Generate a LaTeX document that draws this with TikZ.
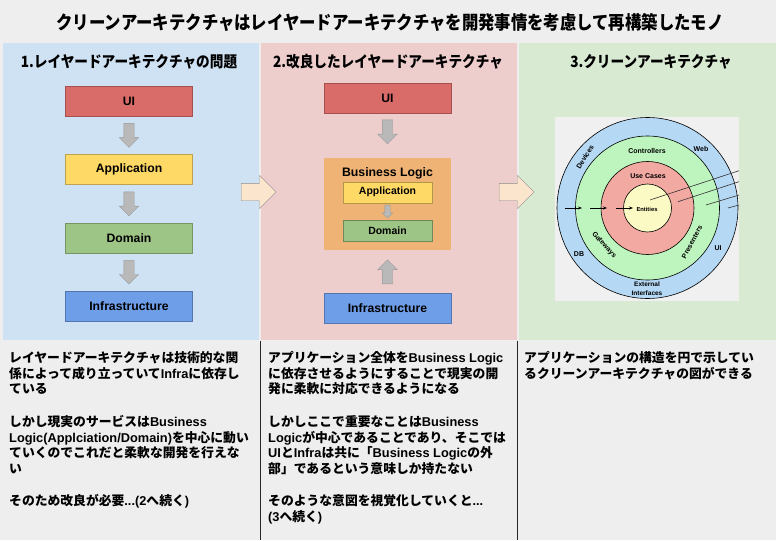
\documentclass[tikz,border=0pt]{standalone}
\usepackage{fontspec}
\setmainfont{Noto Sans CJK JP}
\newfontfamily\lat{Liberation Sans}
\newfontfamily\narrowjp[FakeStretch=0.88]{Noto Sans CJK JP}
\usetikzlibrary{arrows.meta,positioning,shapes.arrows,calc}

\definecolor{bggray}{HTML}{EEEEEE}
\definecolor{pblue}{HTML}{CFE2F3}
\definecolor{ppink}{HTML}{EECDCD}
\definecolor{pgreen}{HTML}{D9EAD3}
\definecolor{uired}{HTML}{D96B68}
\definecolor{appyel}{HTML}{FFD966}
\definecolor{domgrn}{HTML}{9DC585}
\definecolor{infblu}{HTML}{6F9EE8}
\definecolor{blorng}{HTML}{EFB475}
\definecolor{peach}{HTML}{FBE5CD}
\definecolor{cabg}{HTML}{F0F0F0}
\definecolor{cablue}{HTML}{B5D8F5}
\definecolor{cagreen}{HTML}{BEF5BE}
\definecolor{cared}{HTML}{F2A9A2}
\definecolor{cayel}{HTML}{FBFAC4}

\begin{document}
\begin{tikzpicture}[
    x=1pt, y=-1pt,
    node distance=38pt,
    layer/.style={draw=#1!75!black, fill=#1, minimum width=127, minimum height=30, inner sep=0, font=\lat\bfseries\fontsize{12.2}{14}\selectfont},
    sublayer/.style={draw=#1!70!black, fill=#1, minimum width=89, minimum height=21, inner sep=0, font=\lat\bfseries\fontsize{10.5}{12}\selectfont},
    garrow/.style={single arrow, draw=gray!80, fill=gray!55, anchor=tail, inner xsep=0, inner ysep=5, single arrow head extend=4.5, minimum width=19, minimum height=24},
    parrow/.style={single arrow, draw=gray!90, fill=peach, anchor=tail, inner xsep=0, inner ysep=8.5, single arrow head extend=8, minimum width=33, minimum height=35},
    heading/.style={font=\narrowjp\bfseries\fontsize{15.5}{17}\selectfont, inner sep=0},
    body/.style={anchor=north west, align=left, inner sep=0, font=\bfseries\fontsize{12.8}{15.6}\selectfont},
    cal/.style={inner sep=0, font=\lat\bfseries\fontsize{7}{8}\selectfont}
]
% background
\fill[bggray] (0,0) rectangle (776,540);
\fill[pblue] (3,43) rectangle (259,340);
\fill[ppink] (261,43) rectangle (517,340);
\fill[pgreen] (519,43) rectangle (776,340);
\draw[gray!30!black] (260,341) -- (260,540);
\draw[gray!30!black] (517,341) -- (517,540);

\node[font=\narrowjp\bfseries\fontsize{18.6}{20}\selectfont, inner sep=0] (title) at (390,22) {クリーンアーキテクチャはレイヤードアーキテクチャを開発事情を考慮して再構築したモノ};
\node[heading] (h1) at (129,62) {1.レイヤードアーキテクチャの問題};
\node[heading] (h2) at (388,62) {2.改良したレイヤードアーキテクチャ};
\node[heading] (h3) at (651,62) {3.クリーンアーキテクチャ};

% 1. layered
\node[layer=uired] (ui1) at (129,101) {UI};
\node[layer=appyel, below=of ui1] (app1) {Application};
\node[layer=domgrn, below=of app1] (dom1) {Domain};
\node[layer=infblu, below=of dom1] (inf1) {Infrastructure};
\foreach \a/\b in {ui1/app1,app1/dom1,dom1/inf1}
  \node[garrow, rotate=-90] (\a-\b) at ($(\a.south)+(0,7)$) {};

% 2. improved
\node[layer=uired] (ui2) at (387.5,98.5) {UI};
\node[fill=blorng, minimum width=127, minimum height=92, inner sep=0, below=44pt of ui2] (bl) {};
\node[font=\lat\bfseries\fontsize{12.3}{14}\selectfont, inner sep=0] (bltitle) at ($(bl.north)+(0,16)$) {Business Logic};
\node[sublayer=appyel] (app2) at ($(bl.north)+(0,34.5)$) {Application};
\node[sublayer=domgrn, below=17pt of app2] (dom2) {Domain};
\node[layer=infblu, below=43pt of bl] (inf2) {Infrastructure};
\node[garrow, rotate=-90] (ui2-bl) at ($(ui2.south)+(0,6)$) {};
\node[garrow, rotate=-90, minimum width=10, minimum height=13, inner ysep=2.5, single arrow head extend=2.5] (app2-dom2) at ($(app2.south)+(0,2)$) {};
\node[garrow, rotate=90] (inf2-bl) at ($(inf2.north)+(0,-9)$) {};

\node[parrow] (p1-p2) at (241,192) {};
\node[parrow] (p2-p3) at (499,192) {};

% 3. clean architecture
\fill[cabg] (555,117) rectangle (739,301);
\filldraw[fill=cablue, draw=black, line width=0.6] (647.5,208) circle[radius=90.5];
\filldraw[fill=cagreen, draw=black, line width=0.6] (647.5,208) circle[radius=72];
\filldraw[fill=cared, draw=black, line width=0.6] (647.5,208) circle[radius=46.5];
\filldraw[fill=cayel, draw=black, line width=0.6] (647.5,208) circle[radius=24];
\foreach \s/\e in {565/582,590/607,616/633}
  \draw[-{Stealth[length=4pt]}, line width=0.6] (\s,208) -- (\e,208);
\draw[gray!40!black, line width=0.6] (650,200) -- (739,170.7);
\draw[gray!40!black, line width=0.6] (678,201.7) -- (739,181.7);
\draw[gray!40!black, line width=0.6] (706,205) -- (739,195);
\draw[gray!40!black, line width=0.6] (728,208) -- (739,205);
\node[cal, rotate=58] (devices) at (585,157) {Devices};
\node[cal] (web) at (701,149) {Web};
\node[cal] (ctrl) at (647,151) {Controllers};
\node[cal] (uc) at (648,176) {Use Cases};
\node[cal, font=\lat\bfseries\fontsize{5.8}{7}\selectfont] (ent) at (647,209) {Entities};
\node[cal, rotate=-48] (gw) at (604,245) {Gateways};
\node[cal, rotate=62] (pres) at (692,242) {Presenters};
\node[cal] (db) at (579,254) {DB};
\node[cal] (ui3) at (718,248) {UI};
\node[cal, align=center, font=\lat\bfseries\fontsize{6.5}{9}\selectfont] (ext) at (647,288.5) {External\\Interfaces};

% texts
\node[body] (t1) at (9,351.5) {レイヤードアーキテクチャは技術的な関\\係によって成り立っていて{\lat Infra}に依存し\\ている\\[17pt]しかし現実のサービスは{\lat Business}\\{\lat Logic(Applciation/Domain)}を中心に動い\\ていくのでこれだと柔軟な開発を行えな\\い\\[17pt]そのため改良が必要{\lat ...(2}へ続く{\lat )}};
\node[body] (t2) at (268,351.5) {アプリケーション全体を{\lat Business Logic}\\に依存させるようにすることで現実の開\\発に柔軟に対応できるようになる\\[17pt]しかしここで重要なことは{\lat Business}\\{\lat Logic}が中心であることであり、そこでは\\{\lat UI}と{\lat Infra}は共に「{\lat Business Logic}の外\\部」であるという意味しか持たない\\[17pt]そのような意図を視覚化していくと{\lat ...}\\{\lat (3}へ続く{\lat )}};
\node[body] (t3) at (524,351.5) {アプリケーションの構造を円で示してい\\るクリーンアーキテクチャの図ができる};
\end{tikzpicture}
\end{document}
